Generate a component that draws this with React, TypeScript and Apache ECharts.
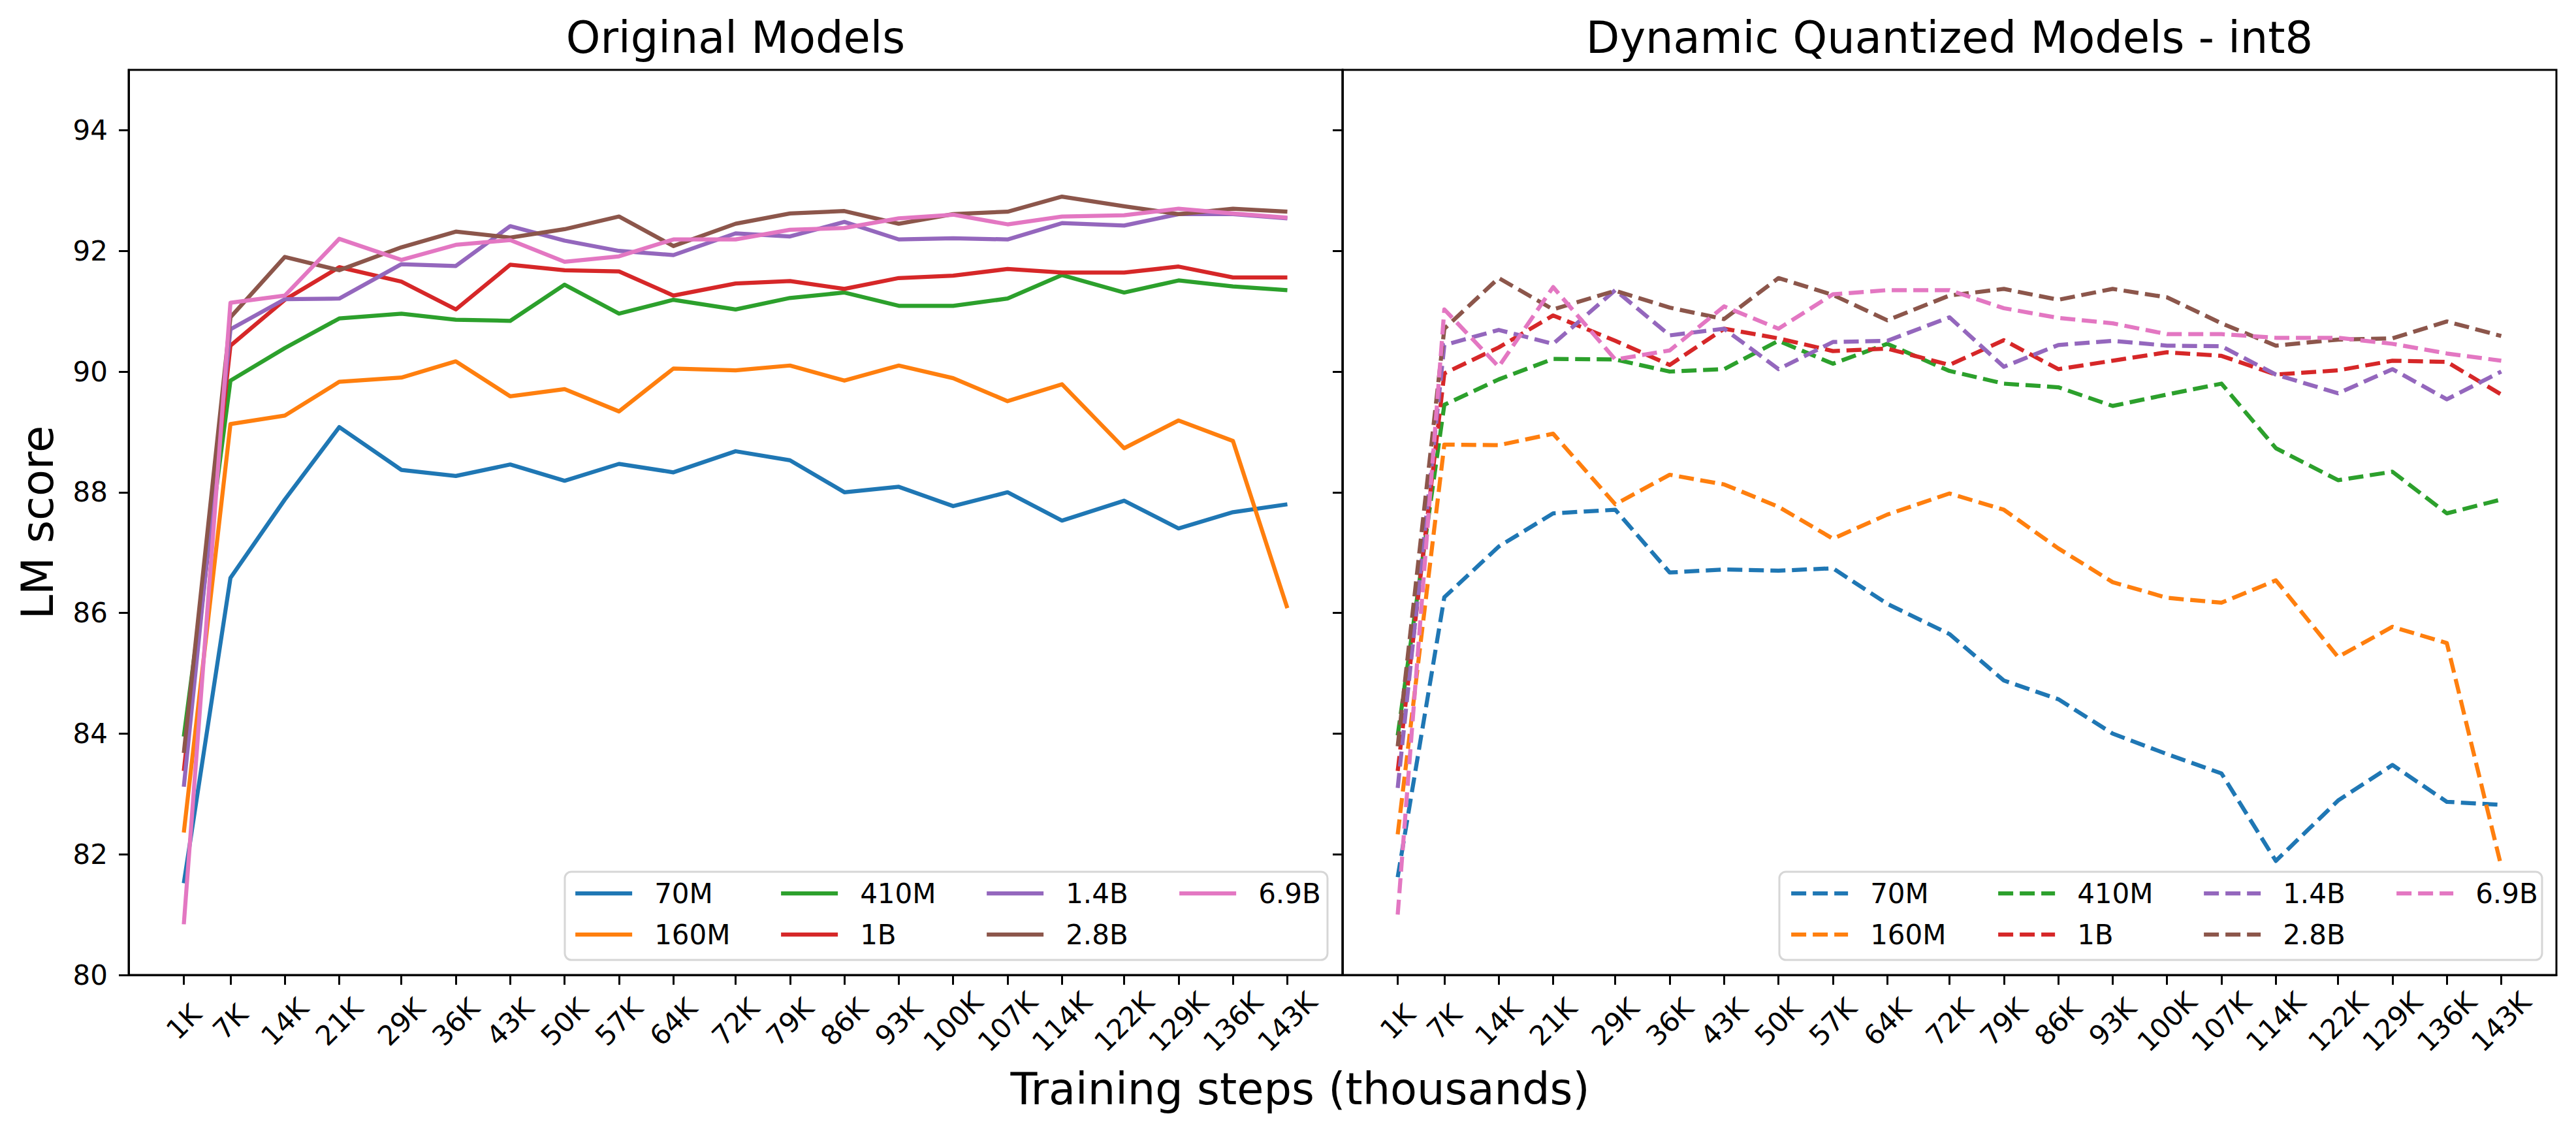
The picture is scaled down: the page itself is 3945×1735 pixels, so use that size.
import React, { useEffect, useRef } from "react";
import * as echarts from "echarts";

const W = 3945;
const H = 1735;
const FONT = "DejaVu Sans";

const steps = [1, 7, 14, 21, 29, 36, 43, 50, 57, 64, 72, 79, 86, 93, 100, 107, 114, 122, 129, 136, 143];
const yTicks = [80, 82, 84, 86, 88, 90, 92, 94];
const modelNames = ["70M", "160M", "410M", "1B", "1.4B", "2.8B", "6.9B"];
const colors = ["#1f77b4", "#ff7f0e", "#2ca02c", "#d62728", "#9467bd", "#8c564b", "#e377c2"];

// Original models
const orig70M = [81.52, 86.58, 87.88, 89.08, 88.37, 88.27, 88.46, 88.19, 88.47, 88.33, 88.68, 88.53, 88.0, 88.09, 87.77, 88.0, 87.53, 87.86, 87.4, 87.67, 87.8];
const orig160M = [82.36, 89.13, 89.27, 89.83, 89.9, 90.17, 89.59, 89.71, 89.34, 90.05, 90.02, 90.1, 89.85, 90.1, 89.89, 89.51, 89.79, 88.73, 89.19, 88.85, 86.08];
const orig410M = [83.95, 89.85, 90.39, 90.88, 90.96, 90.86, 90.84, 91.44, 90.96, 91.19, 91.03, 91.22, 91.31, 91.09, 91.09, 91.21, 91.6, 91.31, 91.51, 91.41, 91.35];
const orig1B = [83.38, 90.43, 91.19, 91.73, 91.49, 91.03, 91.77, 91.68, 91.66, 91.26, 91.46, 91.5, 91.37, 91.55, 91.59, 91.7, 91.64, 91.64, 91.74, 91.56, 91.56];
const orig1_4B = [83.12, 90.7, 91.2, 91.21, 91.78, 91.75, 92.41, 92.17, 92.0, 91.93, 92.29, 92.24, 92.48, 92.19, 92.21, 92.19, 92.46, 92.42, 92.61, 92.61, 92.54];
const orig2_8B = [83.68, 90.9, 91.9, 91.68, 92.06, 92.32, 92.22, 92.36, 92.57, 92.08, 92.45, 92.62, 92.66, 92.45, 92.61, 92.65, 92.9, 92.74, 92.61, 92.7, 92.65];
const orig6_9B = [80.84, 91.14, 91.26, 92.2, 91.85, 92.1, 92.18, 91.82, 91.91, 92.19, 92.19, 92.35, 92.38, 92.54, 92.6, 92.44, 92.57, 92.59, 92.7, 92.62, 92.55];

// Dynamic quantized int8 models
const quant70M = [81.62, 86.26, 87.1, 87.65, 87.71, 86.67, 86.72, 86.7, 86.74, 86.15, 85.65, 84.88, 84.57, 84.0, 83.66, 83.34, 81.89, 82.89, 83.48, 82.87, 82.82];
const quant160M = [82.33, 88.79, 88.78, 88.97, 87.8, 88.29, 88.13, 87.76, 87.23, 87.63, 87.98, 87.71, 87.07, 86.51, 86.25, 86.17, 86.54, 85.27, 85.77, 85.5, 81.8];
const quant410M = [83.97, 89.45, 89.87, 90.21, 90.2, 90.0, 90.04, 90.51, 90.13, 90.46, 90.01, 89.8, 89.74, 89.43, 89.62, 89.8, 88.73, 88.2, 88.34, 87.65, 87.88];
const quant1B = [83.38, 89.97, 90.4, 90.93, 90.51, 90.11, 90.71, 90.55, 90.34, 90.38, 90.11, 90.52, 90.04, 90.18, 90.32, 90.26, 89.95, 90.02, 90.18, 90.16, 89.62];
const quant1_4B = [83.1, 90.44, 90.69, 90.46, 91.35, 90.6, 90.71, 90.04, 90.49, 90.51, 90.9, 90.08, 90.44, 90.51, 90.43, 90.42, 89.95, 89.64, 90.04, 89.54, 90.0];
const quant2_8B = [83.79, 90.71, 91.55, 91.03, 91.34, 91.06, 90.87, 91.55, 91.27, 90.85, 91.26, 91.37, 91.19, 91.37, 91.23, 90.8, 90.43, 90.53, 90.55, 90.83, 90.59];
const quant6_9B = [81.0, 91.03, 90.08, 91.4, 90.2, 90.35, 91.08, 90.71, 91.28, 91.35, 91.35, 91.05, 90.89, 90.8, 90.62, 90.62, 90.56, 90.56, 90.46, 90.3, 90.18];

const origSeries = [orig70M, orig160M, orig410M, orig1B, orig1_4B, orig2_8B, orig6_9B];
const quantSeries = [quant70M, quant160M, quant410M, quant1B, quant1_4B, quant2_8B, quant6_9B];

const panelTitles = ["Original Models", "Dynamic Quantized Models - int8"];
const yLabel = "LM score";
const xLabel = "Training steps (thousands)";

export default function App() {
  const ref = useRef<HTMLDivElement>(null);

  useEffect(() => {
    if (!ref.current) return;
    const chart = echarts.init(ref.current, undefined, { renderer: "svg", width: W, height: H });

    const gridLeft = [197, 2056];
    const gridTop = 107;
    const gridW = 1859;
    const gridH = 1386;

    const xAxes = [0, 1].map((i) => ({
      type: "value",
      gridIndex: i,
      min: -6.1,
      max: 150.1,
      axisLine: { show: true, onZero: false, lineStyle: { color: "#000", width: 3 } },
      axisTick: { show: true, length: 15, lineStyle: { color: "#000", width: 3 }, customValues: steps },
      axisLabel: {
        show: true,
        customValues: steps,
        formatter: (v: number) => `${v}K`,
        rotate: 45,
        align: "center",
        verticalAlign: "middle",
        margin: 72,
        fontSize: 42,
        color: "#000",
        fontFamily: FONT,
      },
      splitLine: { show: false },
    }));

    const yAxes = [0, 1].map((i) => ({
      type: "value",
      gridIndex: i,
      min: 80,
      max: 95,
      axisLine: { show: true, onZero: false, lineStyle: { color: "#000", width: 3 } },
      axisTick: { show: true, length: 15, lineStyle: { color: "#000", width: 3 }, customValues: yTicks },
      axisLabel: {
        show: i === 0,
        customValues: yTicks,
        margin: 32,
        fontSize: 42,
        color: "#000",
        fontFamily: FONT,
      },
      splitLine: { show: false },
    }));

    const series: any[] = [];
    origSeries.forEach((vals, k) => {
      series.push({
        name: "L" + modelNames[k],
        type: "line",
        xAxisIndex: 0,
        yAxisIndex: 0,
        symbol: "none",
        showSymbol: false,
        data: steps.map((s, j) => [s, vals[j]]),
        lineStyle: { color: colors[k], width: 6.25, type: "solid", join: "round" },
        itemStyle: { color: colors[k] },
        z: 2,
      });
    });
    quantSeries.forEach((vals, k) => {
      series.push({
        name: "R" + modelNames[k],
        type: "line",
        xAxisIndex: 1,
        yAxisIndex: 1,
        symbol: "none",
        showSymbol: false,
        data: steps.map((s, j) => [s, vals[j]]),
        lineStyle: { color: colors[k], width: 6.25, type: [23, 10], join: "round" },
        itemStyle: { color: colors[k] },
        z: 2,
      });
    });

    const colGroups = [
      [0, 1],
      [2, 3],
      [4, 5],
      [6],
    ];
    const legendLefts = [
      [878, 1193, 1508, 1803],
      [2740, 3057, 3372, 3667],
    ];
    const legends: any[] = [];
    ["L", "R"].forEach((p, pi) => {
      colGroups.forEach((grp, ci) => {
        legends.push({
          orient: "vertical",
          left: legendLefts[pi][ci],
          top: 1347,
          padding: 0,
          itemWidth: 87,
          itemHeight: 14,
          itemGap: 21,
          selectedMode: false,
          data: grp.map((k) => p + modelNames[k]),
          formatter: (n: string) => n.slice(1),
          itemStyle: { opacity: 0, borderWidth: 0 },
          lineStyle: { width: 6.25 },
          textStyle: {
            fontSize: 42,
            lineHeight: 42,
            color: "#000",
            fontFamily: FONT,
            padding: [0, 0, 0, 29],
          },
          z: 5,
        });
      });
    });

    const legendBoxes = [865, 2725].map((x) => ({
      type: "rect",
      shape: { x, y: 1335, width: 1168, height: 135, r: 10 },
      style: { fill: "rgba(255,255,255,0.8)", stroke: "#d6d6d6", lineWidth: 3 },
      z: 3,
    }));

    const texts: any[] = [
      {
        type: "text",
        x: (gridLeft[0] + gridLeft[0] + gridW) / 2,
        y: 58,
        style: { text: panelTitles[0], fontSize: 67, fontFamily: FONT, fill: "#000", align: "center", verticalAlign: "middle" },
      },
      {
        type: "text",
        x: (gridLeft[1] + gridLeft[1] + gridW) / 2,
        y: 58,
        style: { text: panelTitles[1], fontSize: 67, fontFamily: FONT, fill: "#000", align: "center", verticalAlign: "middle" },
      },
      {
        type: "text",
        x: 1991,
        y: 1668,
        style: { text: xLabel, fontSize: 67, fontFamily: FONT, fill: "#000", align: "center", verticalAlign: "middle" },
      },
      {
        type: "text",
        x: 58,
        y: 800,
        rotation: Math.PI / 2,
        style: { text: yLabel, fontSize: 67, fontFamily: FONT, fill: "#000", align: "center", verticalAlign: "middle" },
      },
    ];

    const option: any = {
      animation: false,
      backgroundColor: "#fff",
      grid: gridLeft.map((l) => ({
        left: l,
        top: gridTop,
        width: gridW,
        height: gridH,
        show: true,
        borderColor: "#000",
        borderWidth: 3,
        backgroundColor: "transparent",
        containLabel: false,
      })),
      xAxis: xAxes,
      yAxis: yAxes,
      legend: legends,
      series,
      graphic: [...legendBoxes, ...texts],
    };

    chart.setOption(option);
    return () => {
      chart.dispose();
    };
  }, []);

  return (
    <div
      ref={ref}
      style={{ position: "fixed", left: 0, top: 0, width: W, height: H, background: "#fff" }}
    />
  );
}
